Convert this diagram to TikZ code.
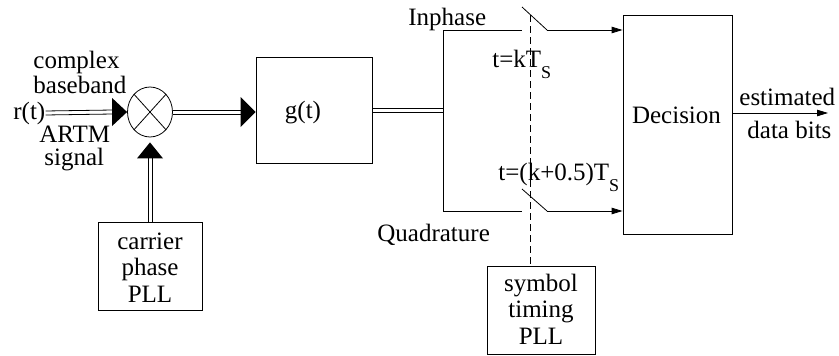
\documentclass[tikz,border=0pt]{standalone}
\usepackage{fontspec}
\setmainfont{Liberation Serif}
\usetikzlibrary{arrows.meta,shapes.geometric}
\newcommand{\subS}[1]{\kern#1\raisebox{-11pt}{\fontsize{18}{18}\selectfont S}}
\begin{document}
\begin{tikzpicture}[x=1pt,y=-1pt,line width=0.8pt,
  txt/.style={font=\fontsize{25}{25}\selectfont,inner sep=0pt,anchor=base},
  txtw/.style={txt,anchor=base west},
  blk/.style={draw,inner sep=0pt},
  hup/.style={transform canvas={yshift=2pt}},
  hdn/.style={transform canvas={yshift=-2pt}},
  vlf/.style={transform canvas={xshift=-2pt}},
  vrt/.style={transform canvas={xshift=2pt}},
  sarr/.style={-{Triangle[length=11pt,width=6.5pt]}},
  dsh/.style={dash pattern=on 7pt off 4pt,line width=0.8pt}]
\useasboundingbox (0,0) rectangle (839,356);

% blocks
\node[draw,ellipse,minimum width=45pt,minimum height=50pt,inner sep=0pt] (mix) at (150,112) {};
\draw (mix.north west) -- (mix.south east) (mix.north east) -- (mix.south west);
\node[blk,minimum width=116pt,minimum height=106pt] (g) at (314,110) {};
\node[blk,minimum width=104pt,minimum height=88pt] (cpll) at (150,266) {};
\node[blk,minimum width=109pt,minimum height=219pt] (dec) at (677.5,124.5) {};
\node[blk,minimum width=108pt,minimum height=88pt] (spll) at (541,310) {};

% texts
\node[txtw] (rt) at (13,119) {r(t)};
\node[txtw] (l1) at (33,68) {complex};
\node[txtw] (l2) at (33,93) {baseband};
\node[txtw] (l3) at (39,142) {ARTM};
\node[txtw] (l4) at (44,165) {signal};
\node[txt] (gt) at (303,118) {g(t)};
\node[txt] (c1) at (150,249) {carrier};
\node[txt] (c2) at (150,275) {phase};
\node[txt] (c3) at (150,302) {PLL};
\node[txt] (s1) at (541,291) {symbol};
\node[txt] (s2) at (541,317) {timing};
\node[txt] (s3) at (541,344) {PLL};
\node[txt] (dt) at (676.5,123) {Decision};
\node[txtw] (e1) at (739,105) {estimated};
\node[txtw] (e2) at (747,138) {data bits};
\node[txtw] (ip) at (408,25) {Inphase};
\node[txtw] (qd) at (377,241) {Quadrature};
\node[txtw] (t1) at (492,67) {t=kT\subS{0pt}};
\node[txtw] (t2) at (498,180) {t=(k+0.5)T\subS{0pt}};

% input r(t) -> mixer
\coordinate (rin) at (rt.east);
\coordinate (rb) at ([xshift=-14pt]mix.west);
\draw[hup] (rin) -- (rb);
\draw[hdn] (rin) -- (rb);
\fill (mix.west) -- ++(-15,-14) -- ++(0,28) -- cycle;
% mixer -> g(t)
\coordinate (gin) at (mix.east -| g.west);
\coordinate (gb) at ([xshift=-14pt]gin);
\draw[hup] (mix.east) -- (gb);
\draw[hdn] (mix.east) -- (gb);
\fill (gin) -- ++(-15,-15) -- ++(0,30) -- cycle;
% carrier PLL -> mixer
\coordinate (mtip) at ([yshift=-5pt]mix.south);
\coordinate (mb) at ([yshift=-16pt]mtip);
\draw[vlf] (cpll.north) -- (mb);
\draw[vrt] (cpll.north) -- (mb);
\fill (mtip) -- ++(-13,16) -- ++(26,0) -- cycle;

% g(t) -> splitter
\coordinate (itop) at (443,30);
\coordinate (qbot) at (443,211);
\coordinate (spl) at (itop |- g.east);
\draw[hup] (g.east) -- (spl);
\draw[hdn] (g.east) -- (spl);
\draw (itop) -- (qbot);
% inphase switch
\coordinate (iopen) at (522,30);
\coordinate (ibl) at (522,7);
\coordinate (iclose) at (547,30);
\draw (itop) -- (iopen);
\draw (ibl) -- (iclose);
\draw[sarr] (iclose) -- (iclose -| dec.west);
% quadrature switch
\coordinate (qopen) at (522,211);
\coordinate (qbl) at (522,189);
\coordinate (qclose) at (547,211);
\draw (qbot) -- (qopen);
\draw (qbl) -- (qclose);
\draw[sarr] (qclose) -- (qclose -| dec.west);
% timing dashed line
\coordinate (dtop) at (530,15);
\draw[dsh] (dtop) -- (dtop |- spll.north);
% output
\coordinate (oend) at (828,113);
\coordinate (dout) at (oend -| dec.east);
\draw[sarr] (dout) -- (oend);
\end{tikzpicture}
\end{document}
